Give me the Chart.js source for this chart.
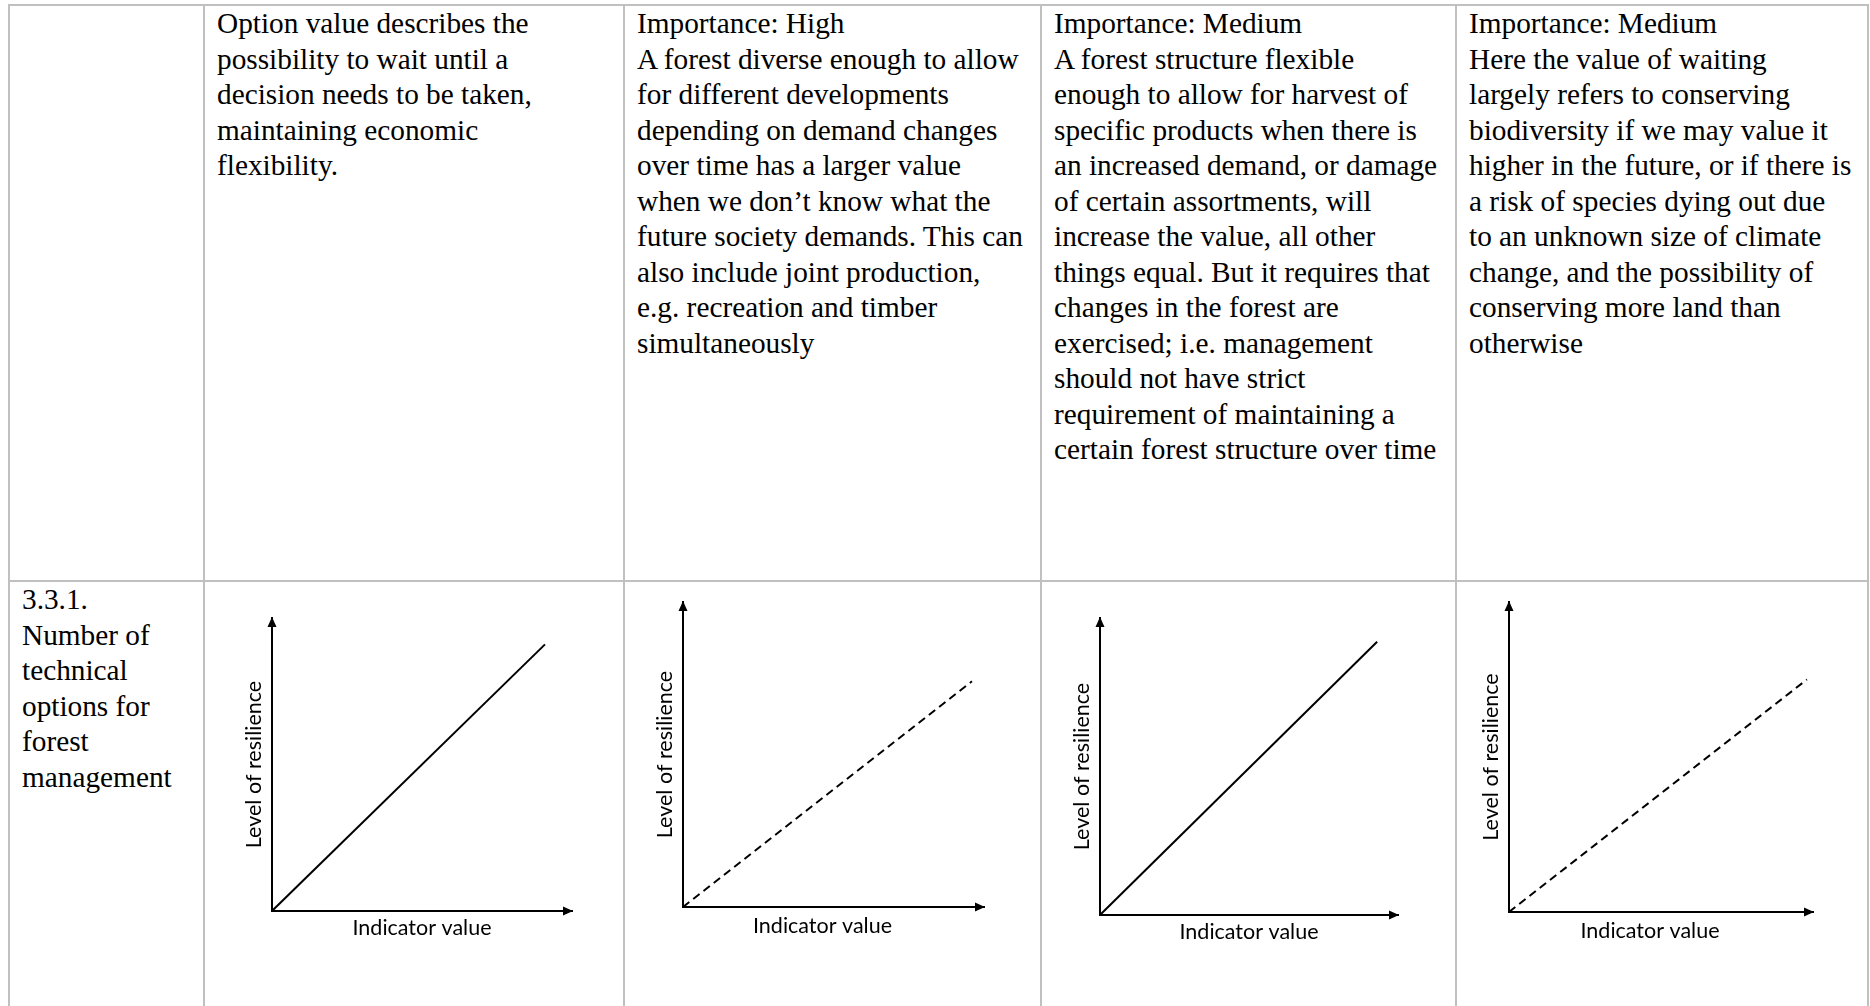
<!DOCTYPE html>
<html><head><meta charset="utf-8">
<script src="https://cdn.jsdelivr.net/npm/chart.js@4"></script>
<style>
html,body{margin:0;padding:0;background:#fff;width:1870px;height:1006px;overflow:hidden;}
.ln{position:absolute;background:#c0c0c0;}
.txt{position:absolute;font-family:"Liberation Serif","Times New Roman",serif;font-size:29.3px;line-height:35.5px;color:#000;white-space:nowrap;}
canvas{position:absolute;}
</style></head><body>
<div id="root"></div>
<script>
// ---- data ----
const panelNames = ['High importance, strong', 'High importance, weak', 'Medium importance, strong', 'Medium importance, weak'];
const xStart = [0, 0, 0, 0];
const yStart = [0, 0, 0, 0];
const xEnd = [91, 96, 93, 98];
const yEnd = [91, 74, 92, 75];
const dashed = [false, true, false, true];
const xAxisTitle = 'Indicator value';
const yAxisTitle = 'Level of resilience';
const axisMin = 0;
const axisMax = 100;

// ---- table text ----
const rowLabel = ['3.3.1.', 'Number of', 'technical', 'options for', 'forest', 'management'];
const cellTexts = [
  ['Option value describes the', 'possibility to wait until a', 'decision needs to be taken,', 'maintaining economic', 'flexibility.'],
  ['Importance: High', 'A forest diverse enough to allow', 'for different developments', 'depending on demand changes', 'over time has a larger value', 'when we don\u2019t know what the', 'future society demands. This can', 'also include joint production,', 'e.g. recreation and timber', 'simultaneously'],
  ['Importance: Medium', 'A forest structure flexible', 'enough to allow for harvest of', 'specific products when there is', 'an increased demand, or damage', 'of certain assortments, will', 'increase the value, all other', 'things equal. But it requires that', 'changes in the forest are', 'exercised; i.e. management', 'should not have strict', 'requirement of maintaining a', 'certain forest structure over time'],
  ['Importance: Medium', 'Here the value of waiting', 'largely refers to conserving', 'biodiversity if we may value it', 'higher in the future, or if there is', 'a risk of species dying out due', 'to an unknown size of climate', 'change, and the possibility of', 'conserving more land than', 'otherwise']
];

// ---- layout (pixels) ----
const colX = [8, 203, 623, 1040, 1455, 1867];
const rowY = [4, 580];
const textLeft = [217, 637, 1054, 1469];
const plotBox = [
  {ox: 272, oy: 911, top: 618, right: 572, xTitleGap: 17, xTitleShift: 0},
  {ox: 683, oy: 907, top: 602, right: 984, xTitleGap: 19.5, xTitleShift: 9},
  {ox: 1100, oy: 915, top: 618, right: 1398, xTitleGap: 17, xTitleShift: 0},
  {ox: 1509, oy: 912, top: 602, right: 1813, xTitleGap: 19.5, xTitleShift: 9}
];

const root = document.getElementById('root');
function addDiv(cls, css, html) {
  const d = document.createElement('div');
  d.className = cls; d.style.cssText = css; if (html) d.innerHTML = html;
  root.appendChild(d); return d;
}
// table borders
addDiv('ln', `left:${colX[0]}px;top:${rowY[0]}px;width:${colX[5]-colX[0]+2}px;height:2px;`);
addDiv('ln', `left:${colX[0]}px;top:${rowY[1]}px;width:${colX[5]-colX[0]+2}px;height:2px;`);
colX.forEach(x => addDiv('ln', `left:${x}px;top:${rowY[0]}px;width:2px;height:${1006-rowY[0]}px;`));
// texts
cellTexts.forEach((lines, i) => addDiv('txt', `left:${textLeft[i]}px;top:6px;`, lines.join('<br>')));
addDiv('txt', `left:22px;top:582px;`, rowLabel.join('<br>'));

// ---- charts ----
const FS = 21.5, LH = 1.2;
const yTitlePad = {top: 0, bottom: 18 - FS * LH / 2};
const yScaleW = FS * LH + yTitlePad.top + yTitlePad.bottom;

const arrowPlugin = {
  id: 'arrows',
  afterDraw(chart) {
    const ctx = chart.ctx, a = chart.chartArea;
    const x0 = chart.scales.x.getPixelForValue(axisMin);
    const y0 = chart.scales.y.getPixelForValue(axisMin);
    ctx.save();
    ctx.fillStyle = '#000';
    ctx.beginPath();
    ctx.moveTo(x0, a.top - 1); ctx.lineTo(x0 - 4.5, a.top + 9); ctx.lineTo(x0 + 4.5, a.top + 9); ctx.closePath(); ctx.fill();
    ctx.beginPath();
    ctx.moveTo(a.right + 1, y0); ctx.lineTo(a.right - 9, y0 - 4.5); ctx.lineTo(a.right - 9, y0 + 4.5); ctx.closePath(); ctx.fill();
    ctx.restore();
  }
};

function makeChart(i) {
  const L = plotBox[i];
  const padL = 60, padT = 20, padR = 20, padB = 70;
  const xTitlePad = {top: L.xTitleGap - FS * LH / 2, bottom: 0};
  const xScaleH = FS * LH + xTitlePad.top + xTitlePad.bottom;
  const cv = document.createElement('canvas');
  cv.width = (L.right - L.ox) + padL + padR;
  cv.height = (L.oy - L.top) + padT + padB;
  cv.style.left = (L.ox - padL) + 'px';
  cv.style.top = (L.top - padT) + 'px';
  root.appendChild(cv);
  const titleFont = {family: 'Lato', size: FS, lineHeight: LH, weight: 'normal'};
  // trailing spaces shift the centred title left (each space ~4.15px, shift = half)
  const nSp = Math.round(L.xTitleShift * 2 / (FS * 0.193));
  new Chart(cv, {
    type: 'scatter',
    data: {datasets: [{
      label: panelNames[i],
      data: [{x: xStart[i], y: yStart[i]}, {x: xEnd[i], y: yEnd[i]}],
      showLine: true, borderColor: '#000', borderWidth: 2,
      borderDash: dashed[i] ? [8, 5] : [], pointRadius: 0, fill: false, tension: 0
    }]},
    options: {
      responsive: false, animation: false, devicePixelRatio: 1,
      layout: {padding: {left: padL - yScaleW, top: padT, right: padR, bottom: padB - xScaleH}},
      plugins: {legend: {display: false}, tooltip: {enabled: false}},
      scales: {
        x: {type: 'linear', min: axisMin, max: axisMax,
            grid: {display: false, drawTicks: false}, ticks: {display: false},
            border: {display: true, color: '#000', width: 2},
            title: {display: true, text: xAxisTitle + ' '.repeat(nSp), color: '#000', font: titleFont, padding: xTitlePad}},
        y: {type: 'linear', min: axisMin, max: axisMax,
            grid: {display: false, drawTicks: false}, ticks: {display: false},
            border: {display: true, color: '#000', width: 2},
            title: {display: true, text: yAxisTitle, color: '#000', font: titleFont, padding: yTitlePad}}
      }
    },
    plugins: [arrowPlugin]
  });
}

function start() { for (let i = 0; i < 4; i++) makeChart(i); }
let started = false;
const go = () => { if (!started) { started = true; start(); } };
if (document.fonts && document.fonts.load) {
  Promise.all([document.fonts.load('21.5px Lato'), document.fonts.load('29px "Liberation Serif"')]).then(go, go);
  setTimeout(go, 800);
} else { go(); }
</script>
</body></html>
